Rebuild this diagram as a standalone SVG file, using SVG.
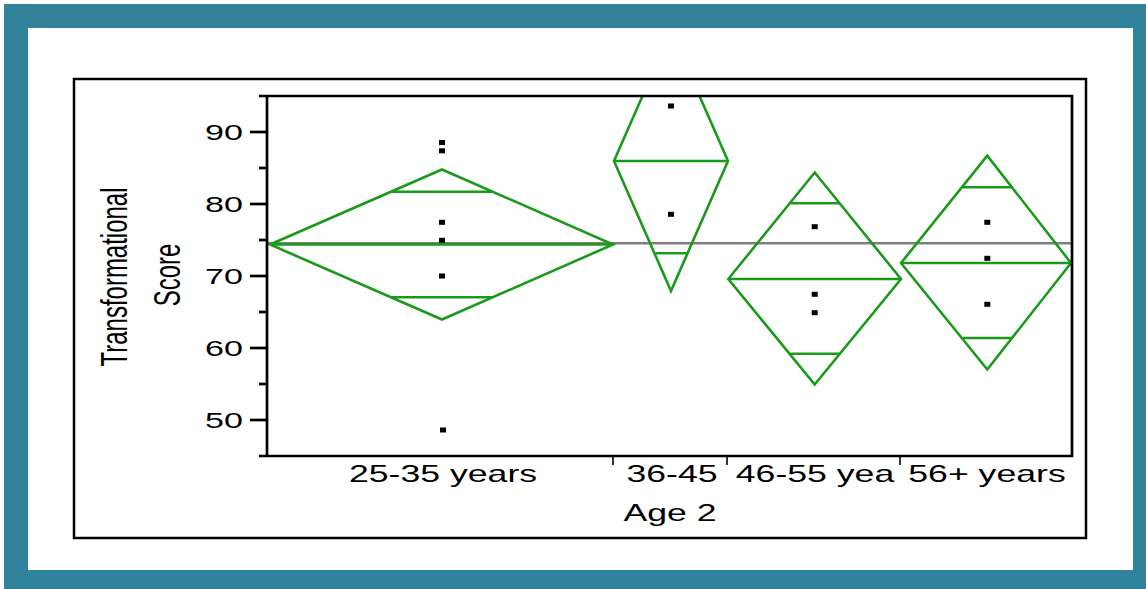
<svg xmlns="http://www.w3.org/2000/svg" width="1146" height="589" viewBox="0 0 1146 589">
  <style>
    .ax { stroke: #000; stroke-width: 2.7; fill: none; }
    .tk { stroke: #000; stroke-width: 2.7; }
    .xt { stroke: #000; stroke-width: 1.6; }
    .dm { stroke: #1a9a1a; stroke-width: 2.6; fill: none; stroke-linejoin: miter; }
    .ln { stroke: #1a9a1a; stroke-width: 2.6; }
    .pt { fill: #000; }
    .lbl { font-family: "Liberation Sans", Arial, sans-serif; fill: #000; }
  </style>
  <defs>
    <clipPath id="plotclip">
      <rect x="267" y="96" width="805" height="360"/>
    </clipPath>
  </defs>
  <rect id="frame-outer" x="4" y="4" width="1142" height="585" fill="#31839b"/>
  <rect id="frame-inner" x="28" y="28" width="1105" height="542" fill="#ffffff"/>
  <rect id="chart-box" x="74" y="79" width="1012" height="459" fill="#ffffff" stroke="#000" stroke-width="2.5"/>

  <g id="grand-mean">
    <line x1="267" y1="243.3" x2="1072" y2="243.3" stroke="#7f7f7f" stroke-width="2.6"/>
  </g>

  <g id="diamonds" clip-path="url(#plotclip)">
    <g id="d1">
      <polygon class="dm" points="270,244.5 442,169.5 613,244.5 442,319.5"/>
      <line class="ln" x1="270" y1="244.5" x2="613" y2="244.5"/>
      <line class="ln" x1="391" y1="191.8" x2="493" y2="191.8"/>
      <line class="ln" x1="391" y1="297.2" x2="493" y2="297.2"/>
    </g>
    <g id="d2">
      <polygon class="dm" points="614,161 671,31 728,161 671,291"/>
      <line class="ln" x1="614" y1="161" x2="728" y2="161"/>
      <line class="ln" x1="655.5" y1="253.3" x2="687.5" y2="253.3"/>
    </g>
    <g id="d3">
      <polygon class="dm" points="728.3,279 814.7,172.5 901,279 814.7,384.5"/>
      <line class="ln" x1="728.3" y1="279" x2="901" y2="279"/>
      <line class="ln" x1="790.5" y1="203.3" x2="839.3" y2="203.3"/>
      <line class="ln" x1="790.5" y1="353.8" x2="839.3" y2="353.8"/>
    </g>
    <g id="d4">
      <polygon class="dm" points="901,263 987.3,155.7 1071,263 987.3,369.5"/>
      <line class="ln" x1="901" y1="263" x2="1071" y2="263"/>
      <line class="ln" x1="963" y1="187.3" x2="1012.7" y2="187.3"/>
      <line class="ln" x1="963" y1="338" x2="1012.7" y2="338"/>
    </g>
  </g>

  <g id="points">
    <rect class="pt" x="439" y="140" width="6" height="5"/>
    <rect class="pt" x="439" y="148.3" width="6" height="5"/>
    <rect class="pt" x="439" y="219.8" width="6" height="5"/>
    <rect class="pt" x="439" y="237.8" width="6" height="5"/>
    <rect class="pt" x="439" y="273.5" width="6" height="5"/>
    <rect class="pt" x="440" y="427.5" width="6" height="5"/>
    <rect class="pt" x="668" y="103.5" width="6" height="5"/>
    <rect class="pt" x="668" y="211.8" width="6" height="5"/>
    <rect class="pt" x="811.7" y="224.2" width="6" height="5"/>
    <rect class="pt" x="811.7" y="291.8" width="6" height="5"/>
    <rect class="pt" x="811.7" y="310.2" width="6" height="5"/>
    <rect class="pt" x="984.3" y="219.8" width="6" height="5"/>
    <rect class="pt" x="984.3" y="255.8" width="6" height="5"/>
    <rect class="pt" x="984.3" y="301.8" width="6" height="5"/>
  </g>

  <g id="axes">
    <polyline class="ax" points="259,96 1072,96 1072,456 259,456"/>
    <line class="ax" x1="267" y1="96" x2="267" y2="456"/>
    <line class="tk" x1="250" y1="132" x2="267" y2="132"/>
    <line class="tk" x1="250" y1="204" x2="267" y2="204"/>
    <line class="tk" x1="250" y1="276" x2="267" y2="276"/>
    <line class="tk" x1="250" y1="348" x2="267" y2="348"/>
    <line class="tk" x1="250" y1="420" x2="267" y2="420"/>
    <line class="tk" x1="259" y1="168" x2="267" y2="168"/>
    <line class="tk" x1="259" y1="240" x2="267" y2="240"/>
    <line class="tk" x1="259" y1="312" x2="267" y2="312"/>
    <line class="tk" x1="259" y1="384" x2="267" y2="384"/>
    <line class="xt" x1="613" y1="456" x2="613" y2="465"/>
    <line class="xt" x1="727" y1="456" x2="727" y2="465"/>
    <line class="xt" x1="900" y1="456" x2="900" y2="465"/>
  </g>

  <g id="y-labels" class="lbl" font-size="22" text-anchor="end">
    <text transform="translate(243,140) scale(1.55,1)">90</text>
    <text transform="translate(243,212) scale(1.55,1)">80</text>
    <text transform="translate(243,284) scale(1.55,1)">70</text>
    <text transform="translate(243,356) scale(1.55,1)">60</text>
    <text transform="translate(243,428) scale(1.55,1)">50</text>
  </g>

  <g id="y-title" class="lbl" font-size="24" text-anchor="middle">
    <text transform="translate(127,277) rotate(-90) scale(1,1.53)">Transformational</text>
    <text transform="translate(180,275) rotate(-90) scale(1,1.53)">Score</text>
  </g>

  <g id="x-labels" class="lbl" font-size="23" text-anchor="middle">
    <text transform="translate(443,482) scale(1.55,1)">25-35 years</text>
    <text transform="translate(672,482) scale(1.55,1)">36-45</text>
    <text transform="translate(815,482) scale(1.55,1)">46-55 yea</text>
    <text transform="translate(987,482) scale(1.55,1)">56+ years</text>
    <text transform="translate(670,521) scale(1.55,1)">Age 2</text>
  </g>
</svg>
